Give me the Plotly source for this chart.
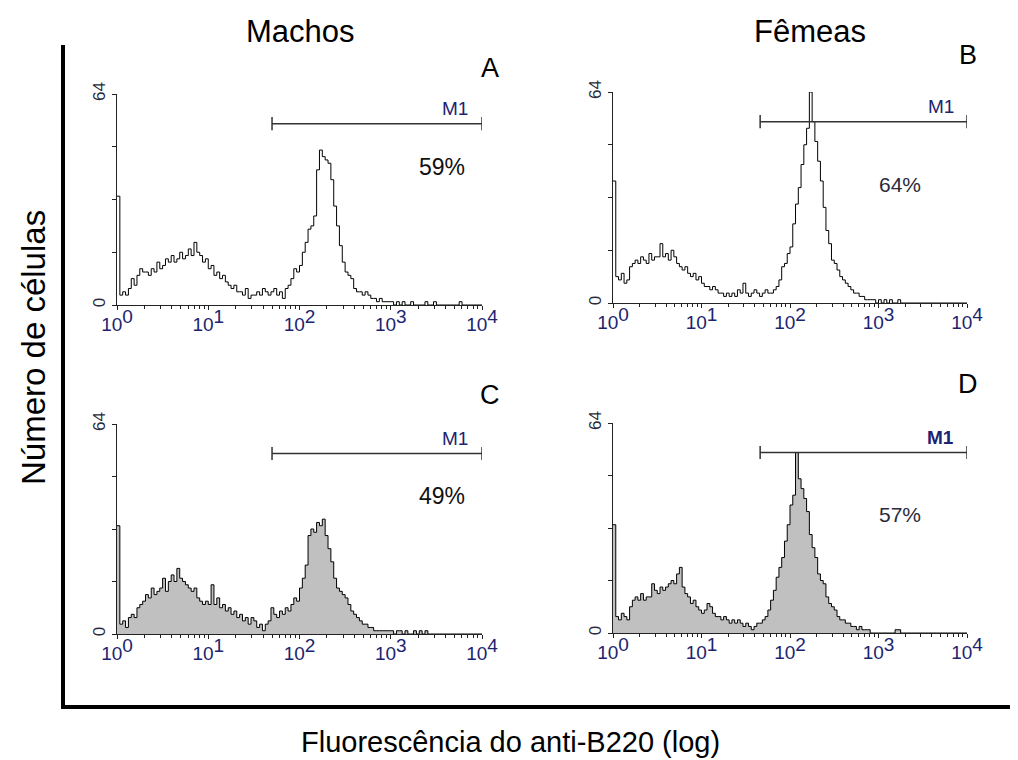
import math
import plotly.graph_objects as go

# ~~~~~~~~~~~~~~~~~~~~~~~~~~~~~~~~~~~~~~~~~~~~~~~~~~~~~~~~~~~~~~~~~~~~~~~~~~~~~~
# histogram counts, 128 channels over 4 decades (32 channels per decade)
counts_a = [33, 3, 4, 3, 5, 8, 6, 9, 11, 10, 10, 9, 11, 10, 13, 11,
            12, 14, 13, 15, 13, 14, 16, 14, 15, 17, 15, 19, 16, 15, 13, 14,
            11, 12, 9, 10, 8, 9, 7, 6, 5, 6, 4, 4, 3, 5, 2, 3,
            3, 4, 3, 5, 4, 3, 4, 5, 3, 4, 2, 5, 6, 8, 11, 10,
            12, 16, 19, 23, 24, 27, 41, 47, 45, 44, 43, 38, 30, 24, 18, 13,
            10, 9, 8, 5, 4, 4, 3, 4, 3, 2, 2, 1, 2, 1, 1, 1,
            1, 0, 1, 0, 1, 0, 0, 1, 0, 0, 0, 0, 1, 0, 0, 1,
            0, 0, 0, 0, 0, 0, 0, 0, 1, 0, 0, 0, 0, 0, 0, 0]

counts_b = [37, 8, 7, 9, 6, 7, 11, 12, 13, 12, 14, 13, 12, 15, 13, 14,
            14, 18, 14, 15, 13, 16, 14, 12, 11, 10, 11, 9, 8, 9, 7, 8,
            6, 5, 5, 4, 5, 4, 3, 3, 2, 3, 2, 3, 2, 4, 3, 6,
            3, 2, 3, 4, 3, 2, 3, 4, 3, 3, 4, 5, 7, 11, 12, 15,
            17, 24, 30, 35, 42, 48, 53, 64, 55, 49, 43, 37, 29, 22, 18, 13,
            12, 10, 8, 7, 6, 5, 4, 3, 3, 2, 2, 1, 1, 1, 1, 0,
            1, 0, 1, 0, 1, 0, 0, 1, 0, 0, 0, 0, 0, 0, 0, 0,
            0, 0, 0, 0, 0, 0, 0, 0, 0, 0, 0, 0, 0, 0, 0, 0]

counts_c = [33, 3, 4, 2, 5, 6, 5, 8, 9, 10, 12, 11, 14, 12, 13, 14,
            17, 13, 16, 18, 16, 20, 17, 16, 15, 14, 13, 14, 11, 10, 9, 10,
            9, 15, 9, 11, 8, 9, 7, 8, 6, 7, 5, 6, 4, 5, 3, 5,
            4, 2, 3, 1, 3, 4, 8, 6, 5, 7, 6, 8, 7, 9, 11, 10,
            14, 17, 21, 30, 32, 31, 34, 33, 35, 30, 26, 22, 17, 14, 13, 12,
            11, 9, 7, 6, 5, 4, 3, 3, 2, 2, 1, 1, 1, 1, 1, 1,
            1, 0, 1, 1, 0, 1, 0, 0, 1, 0, 1, 0, 1, 0, 0, 0,
            0, 0, 0, 0, 0, 0, 0, 0, 0, 0, 0, 0, 0, 0, 0, 0]

counts_d = [33, 5, 4, 6, 5, 4, 8, 10, 11, 10, 12, 10, 11, 11, 15, 13,
            12, 14, 13, 14, 15, 16, 15, 18, 20, 14, 12, 11, 9, 10, 8, 7,
            6, 7, 9, 8, 6, 5, 5, 4, 5, 4, 3, 4, 3, 4, 3, 2,
            3, 2, 1, 2, 3, 3, 4, 5, 7, 10, 13, 17, 20, 23, 28, 33,
            39, 42, 55, 47, 44, 41, 37, 30, 26, 23, 18, 16, 15, 11, 9, 8,
            7, 5, 4, 4, 3, 3, 2, 2, 1, 2, 1, 1, 1, 0, 0, 0,
            0, 0, 0, 0, 0, 0, 1, 1, 0, 0, 0, 0, 0, 0, 0, 0,
            0, 0, 0, 0, 0, 0, 0, 0, 0, 0, 0, 0, 0, 0, 0, 0]

panel_letters = ["A", "B", "C", "D"]
column_titles = ["Machos", "Fêmeas"]
gate_label = "M1"
gate_start = [50, 46, 50, 46]
gate_end = [10000, 10000, 10000, 10000]
gate_level = [55, 55, 55, 55]
gate_percent = ["59%", "64%", "49%", "57%"]
filled = [False, False, True, True]

x_tick_vals = [1, 10, 100, 1000, 10000]
x_tick_exp = ["0", "1", "2", "3", "4"]
y_tick_vals = [0, 64]
y_tick_text = ["0", "64"]
y_minor_vals = [16, 32, 48]

# ~~~~~~~~~~~~~~~~~~~~~~~~~~~~~~~~~~~~~~~~~~~~~~~~~~~~~~~~~~~~~~~~~~~~~~~~~~~~~~
W, H = 1018, 760
OFF = 8  # page body margin, figure sits 8px in from the window corner
navy = "#1c2470"
font = "Liberation Sans, Arial, sans-serif"

def px_x(v):
    return (v - OFF) / W

def px_y(v):
    return 1 - (v - OFF) / H

# panel boxes in window pixels: left, right, top, bottom
boxes = [(117, 482, 94, 305), (613, 967, 92, 303),
         (117, 482, 424, 634), (613, 967, 423, 633)]

edges = [10 ** (c / 32) for c in range(129)]
minor_x = [m * 10 ** k for k in range(4) for m in range(2, 10)]
tick_text = ["10<sup><span style='font-size:19px'>%s</span></sup>" % e for e in x_tick_exp]

fig = go.Figure()
all_counts = [counts_a, counts_b, counts_c, counts_d]
layout = {}
annotations = []

for i, counts in enumerate(all_counts):
    sfx = "" if i == 0 else str(i + 1)
    xa, ya = "x" + sfx, "y" + sfx
    l, r, t, b = boxes[i]

    fig.add_trace(go.Scatter(
        x=edges, y=counts + [counts[-1]], mode="lines", line_shape="hv",
        line=dict(color="black", width=1),
        fill="tozeroy" if filled[i] else None,
        fillcolor="#c0c0c0",
        xaxis=xa, yaxis=ya, showlegend=False, hoverinfo="skip"))

    # gate bar with end caps
    g0, g1, gy = gate_start[i], gate_end[i], gate_level[i]
    fig.add_trace(go.Scatter(
        x=[g0, g0, None, g0, g1, None, g1, g1],
        y=[gy - 2, gy + 2, None, gy, gy, None, gy - 2, gy + 2],
        mode="lines", line=dict(color="#333333", width=1.5),
        xaxis=xa, yaxis=ya, showlegend=False, hoverinfo="skip"))

    layout["xaxis" + sfx] = dict(
        type="log", range=[0, 4], domain=[px_x(l), px_x(r)], anchor=ya,
        automargin=False,
        showline=True, linecolor="#222222", linewidth=1, showgrid=False,
        zeroline=False, ticks="outside", ticklen=4, tickcolor="#222222",
        tickvals=x_tick_vals, ticktext=tick_text, ticklabelstandoff=-2,
        tickfont=dict(family=font, size=19, color=navy),
        minor=dict(ticks="outside", ticklen=3, tickcolor="#222222",
                   tickvals=minor_x, showgrid=False))
    layout["yaxis" + sfx] = dict(
        range=[0, 64], domain=[px_y(b), px_y(t)], anchor=xa,
        automargin=False,
        showline=True, linecolor="#222222", linewidth=1, showgrid=False,
        zeroline=False, ticks="outside", ticklen=4, tickcolor="#222222",
        tickvals=y_tick_vals, ticktext=y_tick_text, tickangle=-90,
        tickfont=dict(family=font, size=17, color="#2a2a3a"),
        minor=dict(ticks="outside", ticklen=4, tickcolor="#222222",
                   tickvals=y_minor_vals, showgrid=False))

    bold = i == 3
    annotations.append(dict(
        x=3.87, y=59.5, xref=xa, yref=ya, text="<b>M1</b>" if bold else gate_label,
        showarrow=False, xanchor="right", yanchor="middle",
        font=dict(family=font, size=19, color=navy)))
    px_pos = 3.56 if i in (0, 2) else 3.24
    py_pos = 42 if i in (0, 2) else 36
    annotations.append(dict(
        x=px_pos, y=py_pos, xref=xa, yref=ya, text=gate_percent[i],
        showarrow=False, xanchor="center", yanchor="middle",
        font=dict(family=font, size=23 if i in (0, 2) else 21,
                  color="#111111" if i in (0, 2) else "#2a2a3a")))

# panel letters
for (x, y), letter in zip([(490, 68), (968, 55), (490, 395), (968, 384)], panel_letters):
    annotations.append(dict(x=px_x(x), y=px_y(y), xref="paper", yref="paper",
                            xanchor="center", yanchor="middle",
                            text=letter, showarrow=False,
                            font=dict(family=font, size=27, color="black")))

for x, title in zip([300, 810], column_titles):
    annotations.append(dict(x=px_x(x), y=px_y(31), xref="paper", yref="paper",
                            xanchor="center", yanchor="middle",
                            text=title, showarrow=False,
                            font=dict(family=font, size=31, color="black")))

annotations.append(dict(x=px_x(33), y=px_y(348), xref="paper", yref="paper",
                        xanchor="center", yanchor="middle",
                        text="Número de células", textangle=-90, showarrow=False,
                        font=dict(family=font, size=33, color="black")))
annotations.append(dict(x=px_x(510), y=px_y(742), xref="paper", yref="paper",
                        xanchor="center", yanchor="middle",
                        text="Fluorescência do anti-B220 (log)", showarrow=False,
                        font=dict(family=font, size=29, color="black")))

# outer L-shaped frame
shapes = [
    dict(type="line", xref="paper", yref="paper", x0=px_x(63), x1=px_x(63),
         y0=px_y(45), y1=px_y(707), line=dict(color="black", width=4)),
    dict(type="line", xref="paper", yref="paper", x0=px_x(61), x1=1,
         y0=px_y(707), y1=px_y(707), line=dict(color="black", width=4)),
]

fig.update_layout(
    width=W, height=H, margin=dict(l=0, r=0, t=0, b=0, autoexpand=False),
    plot_bgcolor="white", paper_bgcolor="white",
    annotations=annotations, shapes=shapes, **layout)

fig.write_html("out.html")
